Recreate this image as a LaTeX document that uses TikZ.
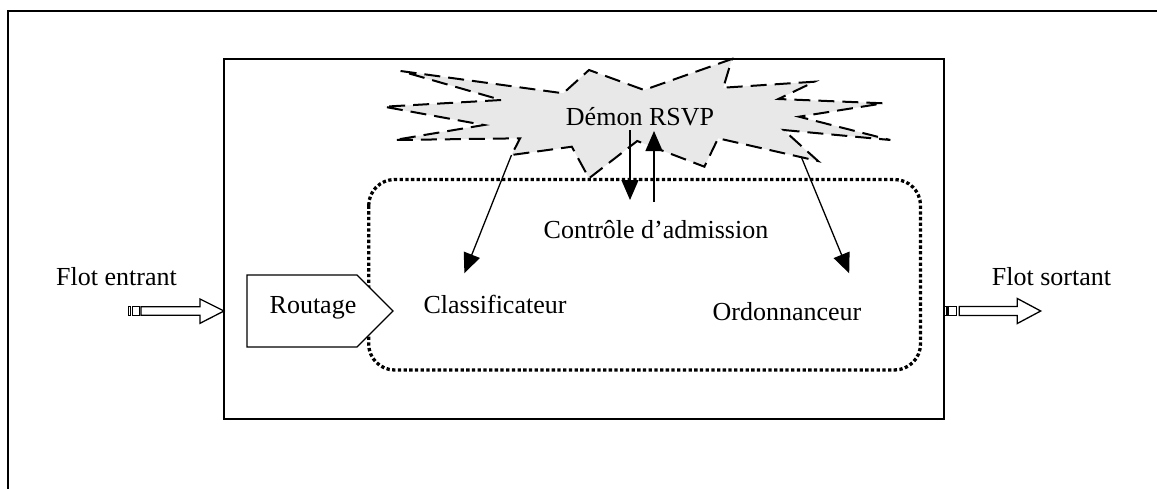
\documentclass[tikz,border=0pt]{standalone}
\usepackage{fontspec}
\setmainfont{Liberation Serif}
\usetikzlibrary{arrows.meta}
\begin{document}
\begin{tikzpicture}[x=1pt,y=-1pt,
  txt/.style={font=\fontsize{26}{30}\selectfont, inner sep=0pt, anchor=base},
  frameline/.style={line width=2.5pt},
  boxline/.style={line width=2pt},
  thinline/.style={line width=1.3pt},
  arr/.style={line width=1.3pt, -{Triangle[length=20pt,width=17pt]}},
  burst/.style={draw, line width=2pt, dash pattern=on 16pt off 8pt, fill=black!9},
  dotbox/.style={draw, line width=3.3pt, dash pattern=on 3.3pt off 2.4pt, rounded corners=26pt},
  blockarrow/.style={draw, line width=1.3pt, fill=white},
]
\useasboundingbox (0,0) rectangle (1157,488);
\clip (0,0) rectangle (1157,488);

% outer frame (cut off at right and bottom)
\draw[frameline] (8,500) -- (8,11) -- (1170,11);

% inner box
\draw[boxline] (224,59) rectangle (944,419);

% starburst
\path[burst] (400.6,71) -- (563.2,93.3) -- (589,70) -- (644.1,90) -- (731.9,59)
  -- (723.3,87.7) -- (814.5,81.7) -- (778.4,99) -- (883.4,103.3) -- (799,116.7)
  -- (890.3,140) -- (783.6,130) -- (818,161) -- (718.1,138.3) -- (704.4,166.7)
  -- (637.2,141) -- (589,178.3) -- (571.8,146.7) -- (511.5,155) -- (520.1,138.3)
  -- (394.4,140) -- (484,125) -- (384.1,106.7) -- (501.2,100) -- cycle;

% dotted rounded box
\draw[dotbox] (368.7,179.5) rectangle (920.5,370);

% routing pentagon
\draw[thinline, fill=white] (247,275) -- (357,275) -- (393,311) -- (357,347) -- (247,347) -- cycle;

% texts
\node[txt] (demon) at (640,125) {Démon RSVP};
\node[txt] (ctrl) at (656,238.3) {Contrôle d’admission};
\node[txt] (classif) at (495,313.3) {Classificateur};
\node[txt] (ordo) at (787,320) {Ordonnanceur};
\node[txt] (routage) at (313,313.3) {Routage};
\node[txt] (fin) at (116.5,285) {Flot entrant};
\node[txt] (fout) at (1051.5,285) {Flot sortant};

% arrow end points
\coordinate (cA) at (511.5,155);
\coordinate (cB) at (464.4,273.3);
\coordinate (oA) at (801.3,157);
\coordinate (oB) at (849.2,273.3);
\coordinate (dA) at (630,130);
\coordinate (dB) at (630,200);
\coordinate (uA) at (654,202);
\coordinate (uB) at (654,131);

\draw[arr] (cA) -- (cB);
\draw[arr] (oA) -- (oB);
\draw[arr] (dA) -- (dB);
\draw[arr] (uA) -- (uB);

% input block arrow
\draw[thinline, fill=white] (128.3,306.7) rectangle (130.8,315.3);
\draw[thinline, fill=white] (132.6,306.7) rectangle (139.3,315.3);
\path[blockarrow] (141,306.7) -- (200,306.7) -- (200,299) -- (224,311) -- (200,323.3)
  -- (200,315.3) -- (141,315.3) -- cycle;

% output block arrow
\draw[thinline, fill=white] (944.5,306.5) rectangle (947,315.5);
\draw[thinline, fill=white] (948.8,306.5) rectangle (956.7,315.5);
\path[blockarrow] (959.3,306.5) -- (1017.3,306.5) -- (1017.3,298.5) -- (1040.7,311)
  -- (1017.3,323.5) -- (1017.3,315.5) -- (959.3,315.5) -- cycle;
\end{tikzpicture}
\end{document}
